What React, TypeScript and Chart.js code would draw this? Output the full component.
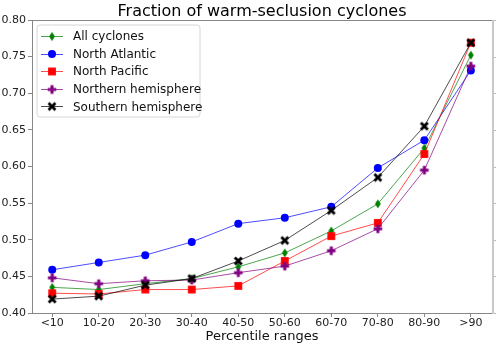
import React, { useEffect, useRef } from "react";
import { Chart, registerables } from "chart.js";

Chart.register(...registerables);

const categories = ["<10", "10-20", "20-30", "30-40", "40-50", "50-60", "60-70", "70-80", "80-90", ">90"];
const yTicks = [0.4, 0.45, 0.5, 0.55, 0.6, 0.65, 0.7, 0.75, 0.8];

const allCyclones = [0.435, 0.432, 0.44, 0.447, 0.463, 0.482, 0.512, 0.549, 0.625, 0.752];
const northAtlantic = [0.459, 0.469, 0.479, 0.497, 0.522, 0.53, 0.545, 0.598, 0.636, 0.731];
const northPacific = [0.427, 0.426, 0.432, 0.432, 0.437, 0.471, 0.505, 0.523, 0.617, 0.769];
const northernHemisphere = [0.448, 0.44, 0.444, 0.445, 0.455, 0.464, 0.485, 0.515, 0.595, 0.737];
const southernHemisphere = [0.419, 0.423, 0.438, 0.447, 0.471, 0.499, 0.54, 0.585, 0.655, 0.769];

const seriesNames = ["All cyclones", "North Atlantic", "North Pacific", "Northern hemisphere", "Southern hemisphere"];

const FONT = "'DejaVu Sans', 'Liberation Sans', sans-serif";

function makeMarker(kind: string): HTMLCanvasElement {
  const c = document.createElement("canvas");
  c.width = 12;
  c.height = 12;
  const ctx = c.getContext("2d")!;
  const cx = 6, cy = 6;
  ctx.beginPath();
  if (kind === "diamond") {
    ctx.fillStyle = "#008000";
    ctx.moveTo(cx, cy - 4.6);
    ctx.lineTo(cx + 2.9, cy);
    ctx.lineTo(cx, cy + 4.6);
    ctx.lineTo(cx - 2.9, cy);
    ctx.closePath();
    ctx.fill();
  } else if (kind === "square") {
    ctx.fillStyle = "#ff0000";
    ctx.fillRect(cx - 3.9, cy - 3.9, 7.8, 7.8);
  } else if (kind === "plus") {
    ctx.fillStyle = "#800080";
    const L = 4.3, T = 1.5;
    ctx.fillRect(cx - L, cy - T, 2 * L, 2 * T);
    ctx.fillRect(cx - T, cy - L, 2 * T, 2 * L);
  } else if (kind === "x") {
    ctx.fillStyle = "#000000";
    ctx.translate(cx, cy);
    ctx.rotate(Math.PI / 4);
    const L = 4.9, T = 1.4;
    ctx.fillRect(-L, -T, 2 * L, 2 * T);
    ctx.fillRect(-T, -L, 2 * T, 2 * L);
  }
  return c;
}

export default function App() {
  const ref = useRef<HTMLCanvasElement | null>(null);

  useEffect(() => {
    document.body.style.margin = "0";
    const canvas = ref.current!;
    const markers = {
      diamond: makeMarker("diamond"),
      square: makeMarker("square"),
      plus: makeMarker("plus"),
      x: makeMarker("x"),
    };

    const values = [allCyclones, northAtlantic, northPacific, northernHemisphere, southernHemisphere];
    const lineColors = [
      "rgba(0,128,0,0.7)",
      "rgba(0,0,255,0.7)",
      "rgba(255,0,0,0.7)",
      "rgba(128,0,128,0.7)",
      "rgba(0,0,0,0.7)",
    ];
    const pointColors = ["#008000", "#0000ff", "#ff0000", "#800080", "#000000"];
    const styles: any[] = [markers.diamond, "circle", markers.square, markers.plus, markers.x];

    const datasets = values.map((vals, i) => ({
      label: seriesNames[i],
      data: vals.map((v, j) => ({ x: j, y: v })),
      borderColor: lineColors[i],
      backgroundColor: pointColors[i],
      borderWidth: 1,
      pointStyle: styles[i],
      pointRadius: i === 1 ? 4 : 5,
      pointBackgroundColor: pointColors[i],
      pointBorderColor: pointColors[i],
      pointBorderWidth: 0,
      tension: 0,
      order: 4 - i,
    }));

    const framePlugin = {
      id: "frameAndLegend",
      afterDraw(chart: any) {
        const ctx = chart.ctx;
        const a = chart.chartArea;
        ctx.save();
        // top spine
        ctx.strokeStyle = "#888";
        ctx.lineWidth = 1;
        ctx.beginPath();
        ctx.moveTo(a.left, a.top + 0.5);
        ctx.lineTo(a.right, a.top + 0.5);
        ctx.stroke();
        // right spine (light)
        ctx.strokeStyle = "#c8c8c8";
        ctx.lineWidth = 2;
        ctx.beginPath();
        ctx.moveTo(a.right + 1, a.top);
        ctx.lineTo(a.right + 1, a.bottom + 1);
        ctx.stroke();
        const ys = chart.scales.y;
        ctx.strokeStyle = "#bbb";
        ctx.lineWidth = 1;
        yTicks.forEach((t) => {
          const py = Math.round(ys.getPixelForValue(t)) + 0.5;
          ctx.beginPath();
          ctx.moveTo(a.right + 2, py);
          ctx.lineTo(a.right + 4, py);
          ctx.stroke();
        });

        // title
        ctx.fillStyle = "#000";
        ctx.font = `16px ${FONT}`;
        ctx.textAlign = "center";
        ctx.textBaseline = "alphabetic";
        ctx.fillText("Fraction of warm-seclusion cyclones", (a.left + a.right) / 2, 16);

        // legend
        const bx = 37, by = 25, bw = 163, bh = 92, r = 3;
        ctx.beginPath();
        ctx.moveTo(bx + r, by);
        ctx.lineTo(bx + bw - r, by);
        ctx.quadraticCurveTo(bx + bw, by, bx + bw, by + r);
        ctx.lineTo(bx + bw, by + bh - r);
        ctx.quadraticCurveTo(bx + bw, by + bh, bx + bw - r, by + bh);
        ctx.lineTo(bx + r, by + bh);
        ctx.quadraticCurveTo(bx, by + bh, bx, by + bh - r);
        ctx.lineTo(bx, by + r);
        ctx.quadraticCurveTo(bx, by, bx + r, by);
        ctx.closePath();
        ctx.fillStyle = "rgba(255,255,255,0.8)";
        ctx.fill();
        ctx.strokeStyle = "#d6d6d6";
        ctx.lineWidth = 1;
        ctx.stroke();

        ctx.font = `12px ${FONT}`;
        ctx.textAlign = "left";
        ctx.textBaseline = "middle";
        seriesNames.forEach((name, i) => {
          const ry = 36 + i * 17.6;
          ctx.strokeStyle = lineColors[i];
          ctx.lineWidth = 1;
          ctx.beginPath();
          ctx.moveTo(41, Math.round(ry) + 0.5);
          ctx.lineTo(63, Math.round(ry) + 0.5);
          ctx.stroke();
          const st = styles[i];
          if (st === "circle") {
            ctx.fillStyle = pointColors[i];
            ctx.beginPath();
            ctx.arc(52, ry + 0.5, 4, 0, Math.PI * 2);
            ctx.fill();
          } else {
            ctx.drawImage(st, 52 - 6, Math.round(ry) - 5.5);
          }
          ctx.fillStyle = "#111";
          ctx.fillText(name, 73, ry + 1);
        });
        ctx.restore();
      },
    };

    const chart = new Chart(canvas, {
      type: "line",
      data: { datasets: datasets as any },
      options: {
        animation: false,
        responsive: false,
        devicePixelRatio: 1,
        layout: { padding: { left: 0, right: 8, top: 20, bottom: 0 } },
        plugins: {
          legend: { display: false },
          title: { display: false },
          tooltip: { enabled: false },
        },
        scales: {
          x: {
            type: "linear",
            min: -0.435,
            max: 9.455,
            afterFit: (s: any) => {
              s.height = 34;
            },
            afterBuildTicks: (s: any) => {
              s.ticks = categories.map((_, i) => ({ value: i }));
            },
            grid: { display: true, drawOnChartArea: false, drawTicks: true, tickLength: 4, color: "#888" },
            border: { display: true, color: "#888", width: 1 },
            ticks: {
              padding: 0,
              color: "#222",
              font: { family: FONT, size: 11 },
              maxRotation: 0,
              autoSkip: false,
              callback: (v: any) => categories[Math.round(Number(v))] ?? "",
            },
            title: {
              display: true,
              text: "Percentile ranges",
              color: "#111",
              font: { family: FONT, size: 13 },
              padding: { top: 0, bottom: 3 },
            },
          },
          y: {
            type: "linear",
            min: 0.4,
            max: 0.8,
            afterFit: (s: any) => {
              s.width = 32;
            },
            afterBuildTicks: (s: any) => {
              s.ticks = yTicks.map((v) => ({ value: v }));
            },
            grid: { display: true, drawOnChartArea: false, drawTicks: true, tickLength: 4, color: "#888" },
            border: { display: true, color: "#888", width: 1 },
            ticks: {
              padding: 2,
              color: "#222",
              font: { family: FONT, size: 11 },
              callback: (v: any) => Number(v).toFixed(2),
            },
          },
        },
      },
      plugins: [framePlugin],
    });

    return () => chart.destroy();
  }, []);

  return (
    <div style={{ width: 500, height: 347 }}>
      <canvas ref={ref} width={500} height={347} />
    </div>
  );
}
